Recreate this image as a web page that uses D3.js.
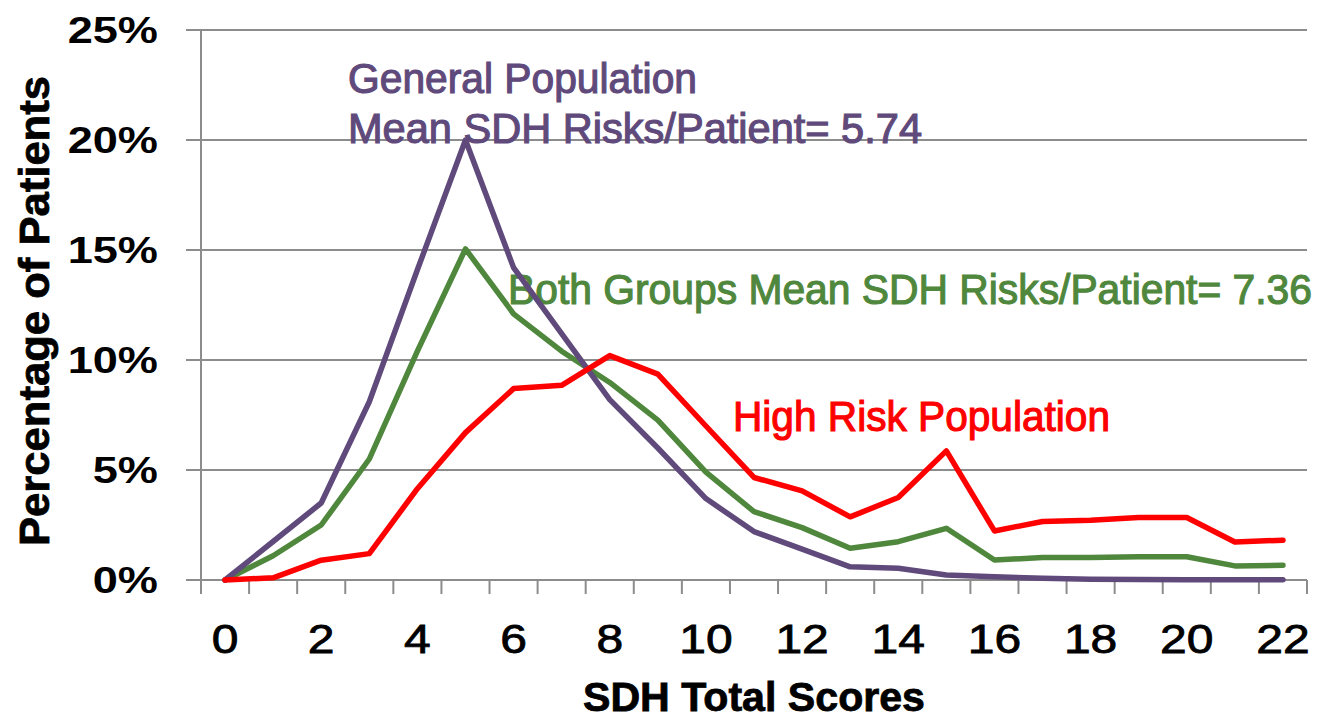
<!DOCTYPE html>
<html>
<head>
<meta charset="utf-8">
<script src="https://cdn.jsdelivr.net/npm/d3@7/dist/d3.min.js"></script>
<style>
  html, body { margin: 0; padding: 0; background: #ffffff; }
  svg { display: block; }
</style>
</head>
<body>
<svg id="chart" width="1321" height="719"></svg>
<script>
// ---- Data ----
const scores = [0,1,2,3,4,5,6,7,8,9,10,11,12,13,14,15,16,17,18,19,20,21,22];
const xTickLabels = [0,2,4,6,8,10,12,14,16,18,20,22];
const yTickValues = [0,0.05,0.10,0.15,0.20,0.25];
const generalPopulation = [0,1.75,3.5,8.1,14.1,20.0,14.2,11.2,8.2,6.0,3.7,2.2,1.4,0.6,0.53,0.23,0.15,0.08,0.03,0.02,0.01,0.01,0.01];
const highRiskPopulation = [0,0.1,0.9,1.2,4.15,6.7,8.7,8.85,10.2,9.36,7.0,4.66,4.05,2.87,3.75,5.87,2.23,2.66,2.72,2.84,2.84,1.73,1.81];
const bothGroups = [0,1.1,2.5,5.5,10.4,15.05,12.1,10.4,8.98,7.27,4.9,3.11,2.38,1.44,1.74,2.35,0.91,1.02,1.02,1.06,1.06,0.64,0.67];
const seriesNames = ["Both Groups","General Population","High Risk Population"];
const seriesColors = ["#4F873D","#5F4A7B","#FF0000"];

(function () {
const svg = d3.select("#chart");
const mLeft = 201, mRight = 1307, mTop = 30, mBottom = 580;

const x = d3.scaleBand().domain(scores).range([mLeft, mRight]).padding(0);
const y = d3.scaleLinear().domain([0, 0.25]).range([mBottom, mTop]);
const gridColor = "#8C8C8C";

// gridlines
svg.append("g").selectAll("line").data(yTickValues).join("line")
  .attr("x1", mLeft - 15).attr("x2", mRight)
  .attr("y1", d => y(d)).attr("y2", d => y(d))
  .attr("stroke", gridColor).attr("stroke-width", 2);

// y axis line
svg.append("line").attr("x1", mLeft).attr("x2", mLeft).attr("y1", mTop).attr("y2", mBottom)
  .attr("stroke", gridColor).attr("stroke-width", 2);

// x ticks at band boundaries
const bounds = scores.map(s => x(s)).concat([mRight]);
svg.append("g").selectAll("line").data(bounds).join("line")
  .attr("x1", d => d).attr("x2", d => d)
  .attr("y1", mBottom).attr("y2", mBottom + 14)
  .attr("stroke", gridColor).attr("stroke-width", 2);

// y tick labels
svg.append("g").selectAll("text").data(yTickValues).join("text")
  .attr("transform", d => `translate(158,${y(d) + 13}) scale(1.22,1)`)
  .attr("text-anchor", "end")
  .attr("font-family", "Liberation Sans, Arial, sans-serif")
  .attr("font-weight", "bold")
  .attr("font-size", 37)
  .attr("fill", "#000")
  .text(d => d3.format(".0%")(d));

// x tick labels
svg.append("g").selectAll("text").data(xTickLabels).join("text")
  .attr("transform", d => `translate(${x(d) + x.bandwidth()/2},653) scale(1.2,1)`)
  .attr("text-anchor", "middle")
  .attr("font-family", "Liberation Sans, Arial, sans-serif")
  .attr("font-size", 40)
  .attr("stroke", "#000").attr("stroke-width", 0.8)
  .attr("fill", "#000")
  .text(d => d);

// axis titles
svg.append("text")
  .attr("x", 754).attr("y", 711)
  .attr("text-anchor", "middle")
  .attr("font-family", "Liberation Sans, Arial, sans-serif")
  .attr("font-weight", "bold").attr("font-size", 41)
  .attr("stroke", "#000").attr("stroke-width", 0.8)
  .attr("textLength", 342).attr("lengthAdjust", "spacingAndGlyphs")
  .text("SDH Total Scores");

svg.append("text")
  .attr("transform", "translate(49,311) rotate(-90)")
  .attr("text-anchor", "middle")
  .attr("font-family", "Liberation Sans, Arial, sans-serif")
  .attr("font-weight", "bold").attr("font-size", 43)
  .attr("stroke", "#000").attr("stroke-width", 0.8)
  .attr("textLength", 470).attr("lengthAdjust", "spacingAndGlyphs")
  .text("Percentage of Patients");

// annotations
const annFont = "Liberation Sans, Arial, sans-serif";
const annotations = [
  {t: "General Population", x: 348, y: 93, w: 349, c: seriesColors[1]},
  {t: "Mean SDH Risks/Patient= 5.74", x: 348, y: 143, w: 574, c: seriesColors[1]},
  {t: "Both Groups Mean SDH Risks/Patient= 7.36", x: 508, y: 304, w: 804, c: seriesColors[0]},
  {t: "High Risk Population", x: 733, y: 431, w: 377, c: seriesColors[2]}
];
svg.append("g").selectAll("text").data(annotations).join("text")
  .attr("transform", d => `translate(${d.x},${d.y}) scale(1,1.05)`)
  .attr("font-family", annFont).attr("font-size", 40)
  .attr("fill", d => d.c)
  .attr("stroke", d => d.c).attr("stroke-width", 1.1)
  .attr("textLength", d => d.w).attr("lengthAdjust", "spacingAndGlyphs")
  .text(d => d.t);

// lines
const seriesData = [bothGroups, generalPopulation, highRiskPopulation];
const line = d3.line()
  .x((d, i) => x(scores[i]) + x.bandwidth()/2)
  .y(d => y(d / 100));
svg.append("g").selectAll("path").data(seriesData).join("path")
  .attr("d", d => line(d))
  .attr("fill", "none")
  .attr("stroke", (d, i) => seriesColors[i])
  .attr("stroke-width", 5.5)
  .attr("stroke-linejoin", "round")
  .attr("stroke-linecap", "round");
})();
</script>
</body>
</html>
